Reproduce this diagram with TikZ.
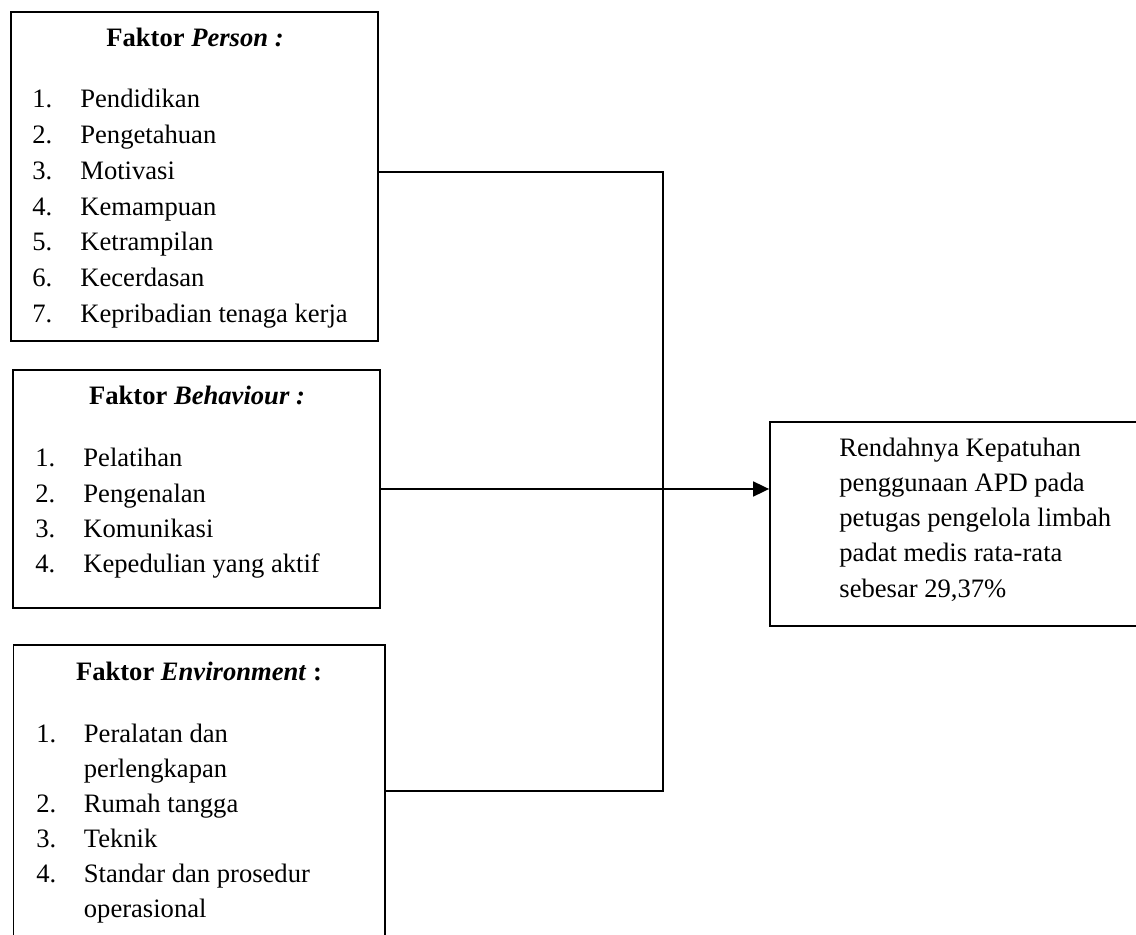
\documentclass[tikz,border=0pt]{standalone}
\usepackage{fontspec}
\setmainfont{Liberation Serif}
\usetikzlibrary{arrows.meta,positioning,calc}
\tikzset{>={Triangle[length=8pt,width=7.5pt]},every node/.style={font=\fontsize{13.3}{17.75}\selectfont,inner sep=0pt},
 box/.style={draw,line width=.9pt,rectangle},
 head/.style={anchor=base},item/.style={anchor=base west},
 link/.style={draw,line width=.9pt}}
\begin{document}
\begin{tikzpicture}[x=.5pt,y=-.5pt]
\useasboundingbox (0,0) rectangle (1136,935);
\clip (0,0) rectangle (1136,935);
% kotak faktor
\node[box,minimum width=183.5pt,minimum height=164.5pt] (person) at (194.5,176.5) {};
\node[box,minimum width=183.5pt,minimum height=119pt] (behav) at (196.5,489) {};
\node[box,minimum width=185.75pt,minimum height=146pt] (env) at (199.25,791) {};
\node[box,minimum width=190pt,minimum height=102pt] (hasil) at (960,524) {};
% judul
\node[head] (person-h) at (195,47) {\textbf{Faktor \textit{Person :}}};
\node[head] (behav-h) at (197,405) {\textbf{Faktor \textit{Behaviour :}}};
\node[head] (env-h) at (199,680) {\textbf{Faktor \textit{Environment} :}};
% daftar
\foreach \t [count=\i] in {Pendidikan,Pengetahuan,Motivasi,Kemampuan,Ketrampilan,Kecerdasan,Kepribadian tenaga kerja}{
 \node[item] (person-n\i) at (32,{108+35.7*(\i-1)}) {\i.};
 \node[item] (person-\i) at (80,{108+35.7*(\i-1)}) {\t};}
\foreach \t [count=\i] in {Pelatihan,Pengenalan,Komunikasi,Kepedulian yang aktif}{
 \node[item] (behav-n\i) at (35,{467+35.3*(\i-1)}) {\i.};
 \node[item] (behav-\i) at (83,{467+35.3*(\i-1)}) {\t};}
\foreach \n/\t [count=\i] in {1./Peralatan dan,/perlengkapan,2./Rumah tangga,3./Teknik,4./Standar dan prosedur,/operasional}{
 \node[item] (env-n\i) at (36,{742+35*(\i-1)}) {\n};
 \node[item] (env-\i) at (83.5,{742+35*(\i-1)}) {\t};}
\foreach \t [count=\i] in {Rendahnya Kepatuhan,penggunaan APD pada,petugas pengelola limbah,padat medis rata-rata,{sebesar 29,37\%}}{
 \node[item] (hasil-\i) at (839,{457+35*(\i-1)}) {\t};}
% garis penghubung
\coordinate (jx) at (663,490);
\draw[link] ($(person.east)+(0,-4.5)$) -| (jx) |- (env.east);
\draw[link,->] (behav.east) -- (behav.east -| hasil.west);
\end{tikzpicture}
\end{document}
